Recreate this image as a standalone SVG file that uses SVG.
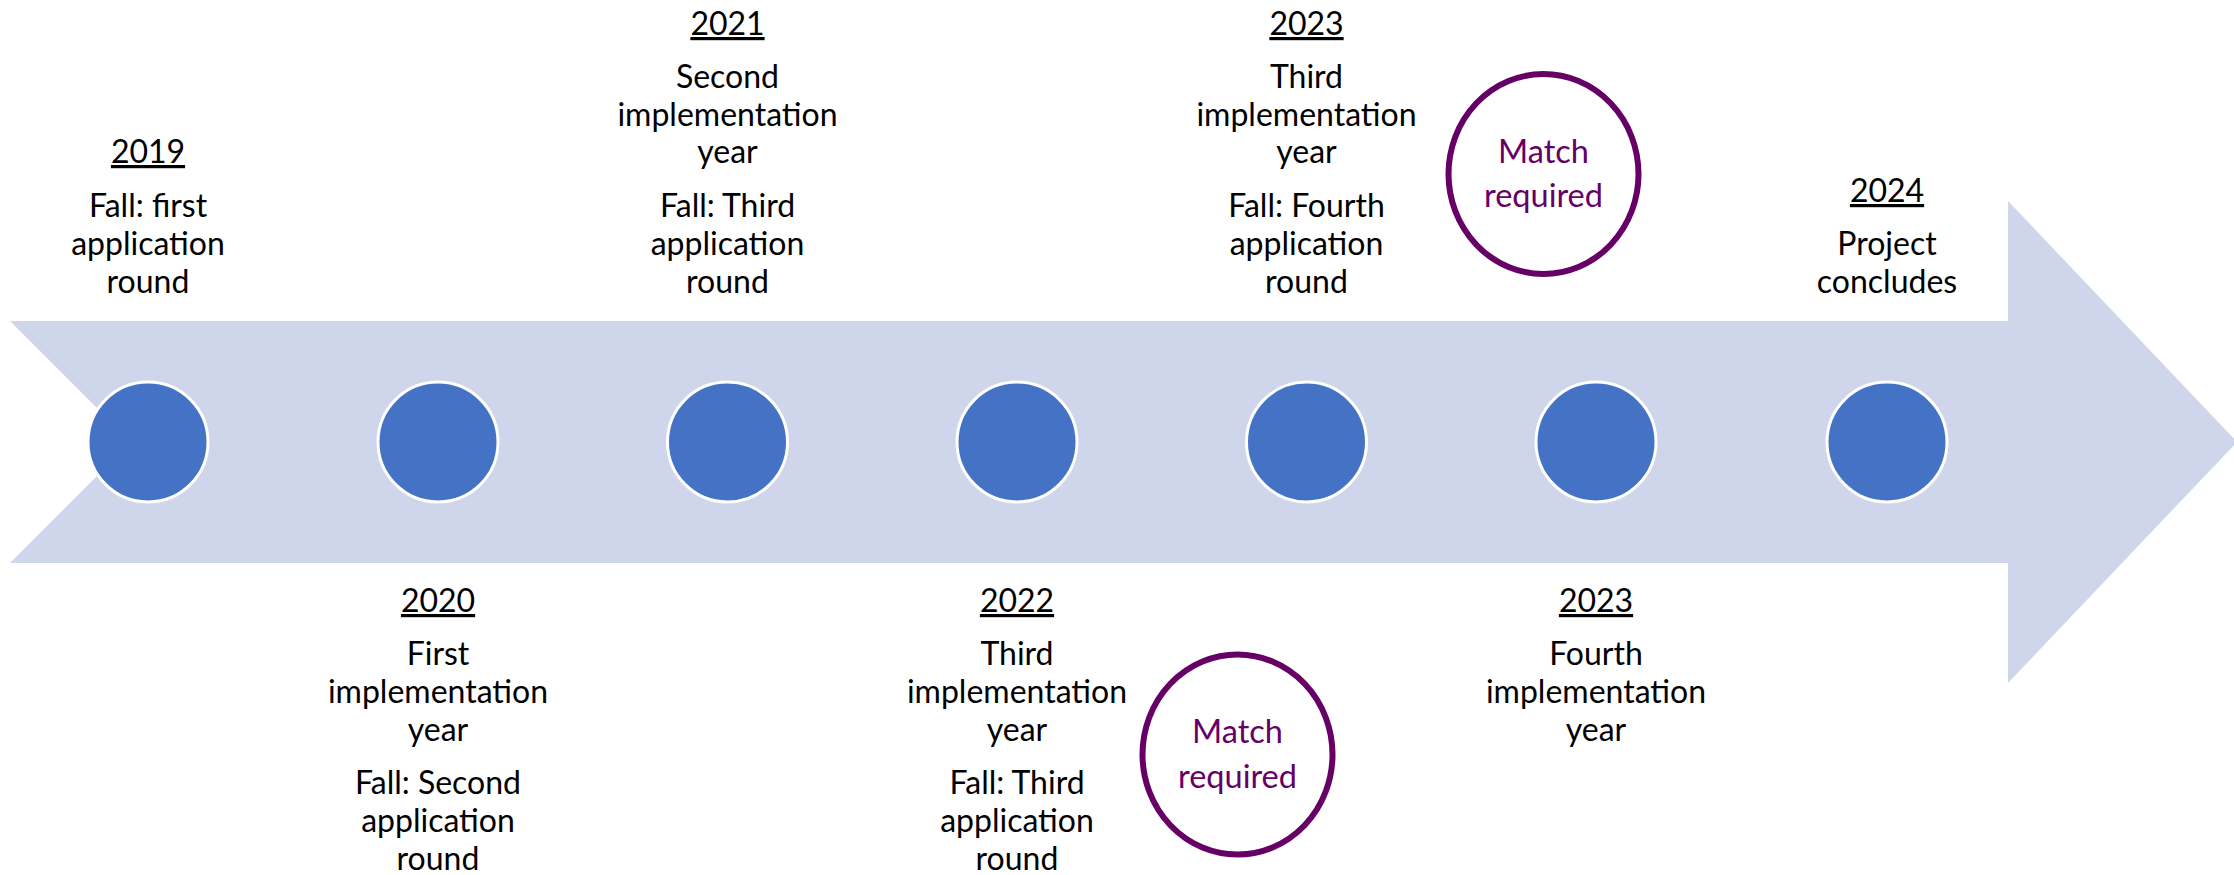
<svg xmlns="http://www.w3.org/2000/svg" width="2234" height="875" viewBox="0 0 2234 875">
<style>
.t{font-family:Lato,"Liberation Sans",sans-serif;font-size:32px;fill:#000;text-anchor:middle}
.y{text-decoration:underline}
.m{font-family:Lato,"Liberation Sans",sans-serif;font-size:32.5px;fill:#660066;text-anchor:middle}
.dot{fill:#4472C4;stroke:#fff;stroke-width:3}
.ring{fill:none;stroke:#660066;stroke-width:6}
</style>
<rect width="2234" height="875" fill="#fff"/>
<g id="arrow">
<polygon points="10,321 2008,321 2008,201 2237,442 2008,683 2008,563 10,563 131,442" fill="#CFD5EA"/>
</g>
<g id="connectors"></g>
<g id="node-2019">
<circle class="dot" cx="148" cy="442" r="60"/>
<text class="t y" x="148" y="163">2019</text>
<text class="t" x="148" y="217">Fall: first</text>
<text class="t" x="148" y="255">application</text>
<text class="t" x="148" y="293">round</text>
</g>
<g id="node-2020">
<circle class="dot" cx="438" cy="442" r="60"/>
<text class="t y" x="438" y="612">2020</text>
<text class="t" x="438" y="665">First</text>
<text class="t" x="438" y="703">implementation</text>
<text class="t" x="438" y="741">year</text>
<text class="t" x="438" y="794">Fall: Second</text>
<text class="t" x="438" y="832">application</text>
<text class="t" x="438" y="870">round</text>
</g>
<g id="node-2021">
<circle class="dot" cx="727.5" cy="442" r="60"/>
<text class="t y" x="727.5" y="35">2021</text>
<text class="t" x="727.5" y="88">Second</text>
<text class="t" x="727.5" y="126">implementation</text>
<text class="t" x="727.5" y="163">year</text>
<text class="t" x="727.5" y="217">Fall: Third</text>
<text class="t" x="727.5" y="255">application</text>
<text class="t" x="727.5" y="293">round</text>
</g>
<g id="node-2022">
<circle class="dot" cx="1017" cy="442" r="60"/>
<text class="t y" x="1017" y="612">2022</text>
<text class="t" x="1017" y="665">Third</text>
<text class="t" x="1017" y="703">implementation</text>
<text class="t" x="1017" y="741">year</text>
<text class="t" x="1017" y="794">Fall: Third</text>
<text class="t" x="1017" y="832">application</text>
<text class="t" x="1017" y="870">round</text>
</g>
<g id="node-2023a">
<circle class="dot" cx="1306.5" cy="442" r="60"/>
<text class="t y" x="1306.5" y="35">2023</text>
<text class="t" x="1306.5" y="88">Third</text>
<text class="t" x="1306.5" y="126">implementation</text>
<text class="t" x="1306.5" y="163">year</text>
<text class="t" x="1306.5" y="217">Fall: Fourth</text>
<text class="t" x="1306.5" y="255">application</text>
<text class="t" x="1306.5" y="293">round</text>
</g>
<g id="node-2023b">
<circle class="dot" cx="1596" cy="442" r="60"/>
<text class="t y" x="1596" y="612">2023</text>
<text class="t" x="1596" y="665">Fourth</text>
<text class="t" x="1596" y="703">implementation</text>
<text class="t" x="1596" y="741">year</text>
</g>
<g id="node-2024">
<circle class="dot" cx="1887" cy="442" r="60"/>
<text class="t y" x="1887" y="202">2024</text>
<text class="t" x="1887" y="255">Project</text>
<text class="t" x="1887" y="293">concludes</text>
</g>
<g id="match-top">
<ellipse class="ring" cx="1543.5" cy="174" rx="95" ry="100"/>
<text class="m" x="1543.5" y="163">Match</text>
<text class="m" x="1543.5" y="207">required</text>
</g>
<g id="match-bottom">
<ellipse class="ring" cx="1237.5" cy="754.5" rx="95" ry="100"/>
<text class="m" x="1237.5" y="743">Match</text>
<text class="m" x="1237.5" y="788">required</text>
</g>
</svg>
